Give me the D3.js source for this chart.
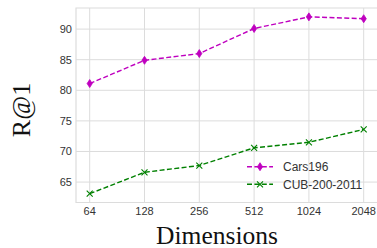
<!DOCTYPE html>
<html lang="en">
<head>
<meta charset="utf-8">
<script src="https://d3js.org/d3.v7.min.js"></script>
<style>
  body { margin: 0; background: #fff; }
  svg { display: block; }
</style>
</head>
<body>
<script>
// chart data
var dims = ["64", "128", "256", "512", "1024", "2048"];
var cars = [81.1, 84.9, 86.0, 90.1, 92.0, 91.7];
var cub = [63.1, 66.6, 67.7, 70.6, 71.5, 73.6];
var yTicks = [65, 70, 75, 80, 85, 90];
var seriesNames = ["Cars196", "CUB-200-2011"];

var W = 377, H = 248;
var plotL = 76, plotR = 377.4, plotT = 8, plotB = 202.5;

var svg = d3.select("body").append("svg")
    .attr("width", W)
    .attr("height", H);

var x = d3.scalePoint()
    .domain(dims)
    .range([plotL, plotR])
    .padding(0.25);

var y = d3.scaleLinear()
    .domain([61.66, 93.45])
    .range([plotB, plotT]);

var grid = "#dcdcdc";

// gridlines
svg.append("g").selectAll("line")
    .data(yTicks)
    .enter().append("line")
    .attr("x1", plotL).attr("x2", plotR)
    .attr("y1", function (d) { return y(d); })
    .attr("y2", function (d) { return y(d); })
    .attr("stroke", grid).attr("stroke-width", 1);

svg.append("g").selectAll("line")
    .data(dims)
    .enter().append("line")
    .attr("y1", plotT).attr("y2", plotB)
    .attr("x1", function (d) { return x(d); })
    .attr("x2", function (d) { return x(d); })
    .attr("stroke", grid).attr("stroke-width", 1);

// spines (left, top, bottom; the right one falls outside the picture)
svg.append("path")
    .attr("d", "M" + plotR + "," + plotT + "H" + plotL + "V" + plotB + "H" + plotR)
    .attr("fill", "none")
    .attr("stroke", grid).attr("stroke-width", 1.2);

// tick labels
svg.append("g").selectAll("text")
    .data(yTicks)
    .enter().append("text")
    .attr("x", 72)
    .attr("y", function (d) { return y(d) + 4; })
    .attr("text-anchor", "end")
    .style("font-family", "Liberation Sans, Arial, sans-serif")
    .style("font-size", "11px")
    .attr("fill", "#333")
    .text(function (d) { return d; });

svg.append("g").selectAll("text")
    .data(dims)
    .enter().append("text")
    .attr("x", function (d) { return x(d); })
    .attr("y", 215)
    .attr("text-anchor", "middle")
    .style("font-family", "Liberation Sans, Arial, sans-serif")
    .style("font-size", "11px")
    .attr("fill", "#333")
    .text(function (d) { return d; });

// axis titles
svg.append("text")
    .attr("x", 217).attr("y", 243.5)
    .attr("text-anchor", "middle")
    .style("font-family", "Liberation Serif, Times New Roman, serif")
    .style("font-size", "25.5px")
    .attr("fill", "#111")
    .text("Dimensions");

svg.append("text")
    .attr("transform", "translate(30,110) rotate(-90)")
    .attr("text-anchor", "middle")
    .style("font-family", "Liberation Serif, Times New Roman, serif")
    .style("font-size", "26px")
    .attr("fill", "#111")
    .text("R@1");

var line = d3.line()
    .x(function (d, i) { return x(dims[i]); })
    .y(function (d) { return y(d); });

var magenta = "#bf00bf", green = "#008000";

function diamond(g, cx, cy, color) {
    g.append("path")
        .attr("d", "M" + cx + "," + (cy - 4) + "L" + (cx + 2.6) + "," + cy +
            "L" + cx + "," + (cy + 4) + "L" + (cx - 2.6) + "," + cy + "Z")
        .attr("fill", color).attr("stroke", color).attr("stroke-width", 0.8);
}
function cross(g, cx, cy, color) {
    g.append("path")
        .attr("d", "M" + (cx - 3) + "," + (cy - 3) + "L" + (cx + 3) + "," + (cy + 3) +
            "M" + (cx - 3) + "," + (cy + 3) + "L" + (cx + 3) + "," + (cy - 3))
        .attr("stroke", color).attr("stroke-width", 1.1).attr("fill", "none");
}

// series
svg.append("path")
    .datum(cars)
    .attr("d", line)
    .attr("fill", "none")
    .attr("stroke", magenta).attr("stroke-width", 1.4)
    .attr("stroke-dasharray", "5,2.4");
var gc = svg.append("g");
cars.forEach(function (v, i) { diamond(gc, x(dims[i]), y(v), magenta); });

svg.append("path")
    .datum(cub)
    .attr("d", line)
    .attr("fill", "none")
    .attr("stroke", green).attr("stroke-width", 1.4)
    .attr("stroke-dasharray", "5,2.4");
var gu = svg.append("g");
cub.forEach(function (v, i) { cross(gu, x(dims[i]), y(v), green); });

// legend
var legend = svg.append("g");
var colors = [magenta, green];
seriesNames.forEach(function (name, i) {
    var ly = 166.7 + i * 17.6;
    legend.append("line")
        .attr("x1", 247).attr("x2", 273)
        .attr("y1", ly).attr("y2", ly)
        .attr("stroke", colors[i]).attr("stroke-width", 1.4)
        .attr("stroke-dasharray", "5,2.4");
    if (i == 0) diamond(legend, 260, ly, colors[i]);
    else cross(legend, 260, ly, colors[i]);
    legend.append("text")
        .attr("x", 283).attr("y", ly + 4.2)
        .style("font-family", "Liberation Sans, Arial, sans-serif")
        .style("font-size", "12px")
        .attr("fill", "#333")
        .text(name);
});
</script>
</body>
</html>
